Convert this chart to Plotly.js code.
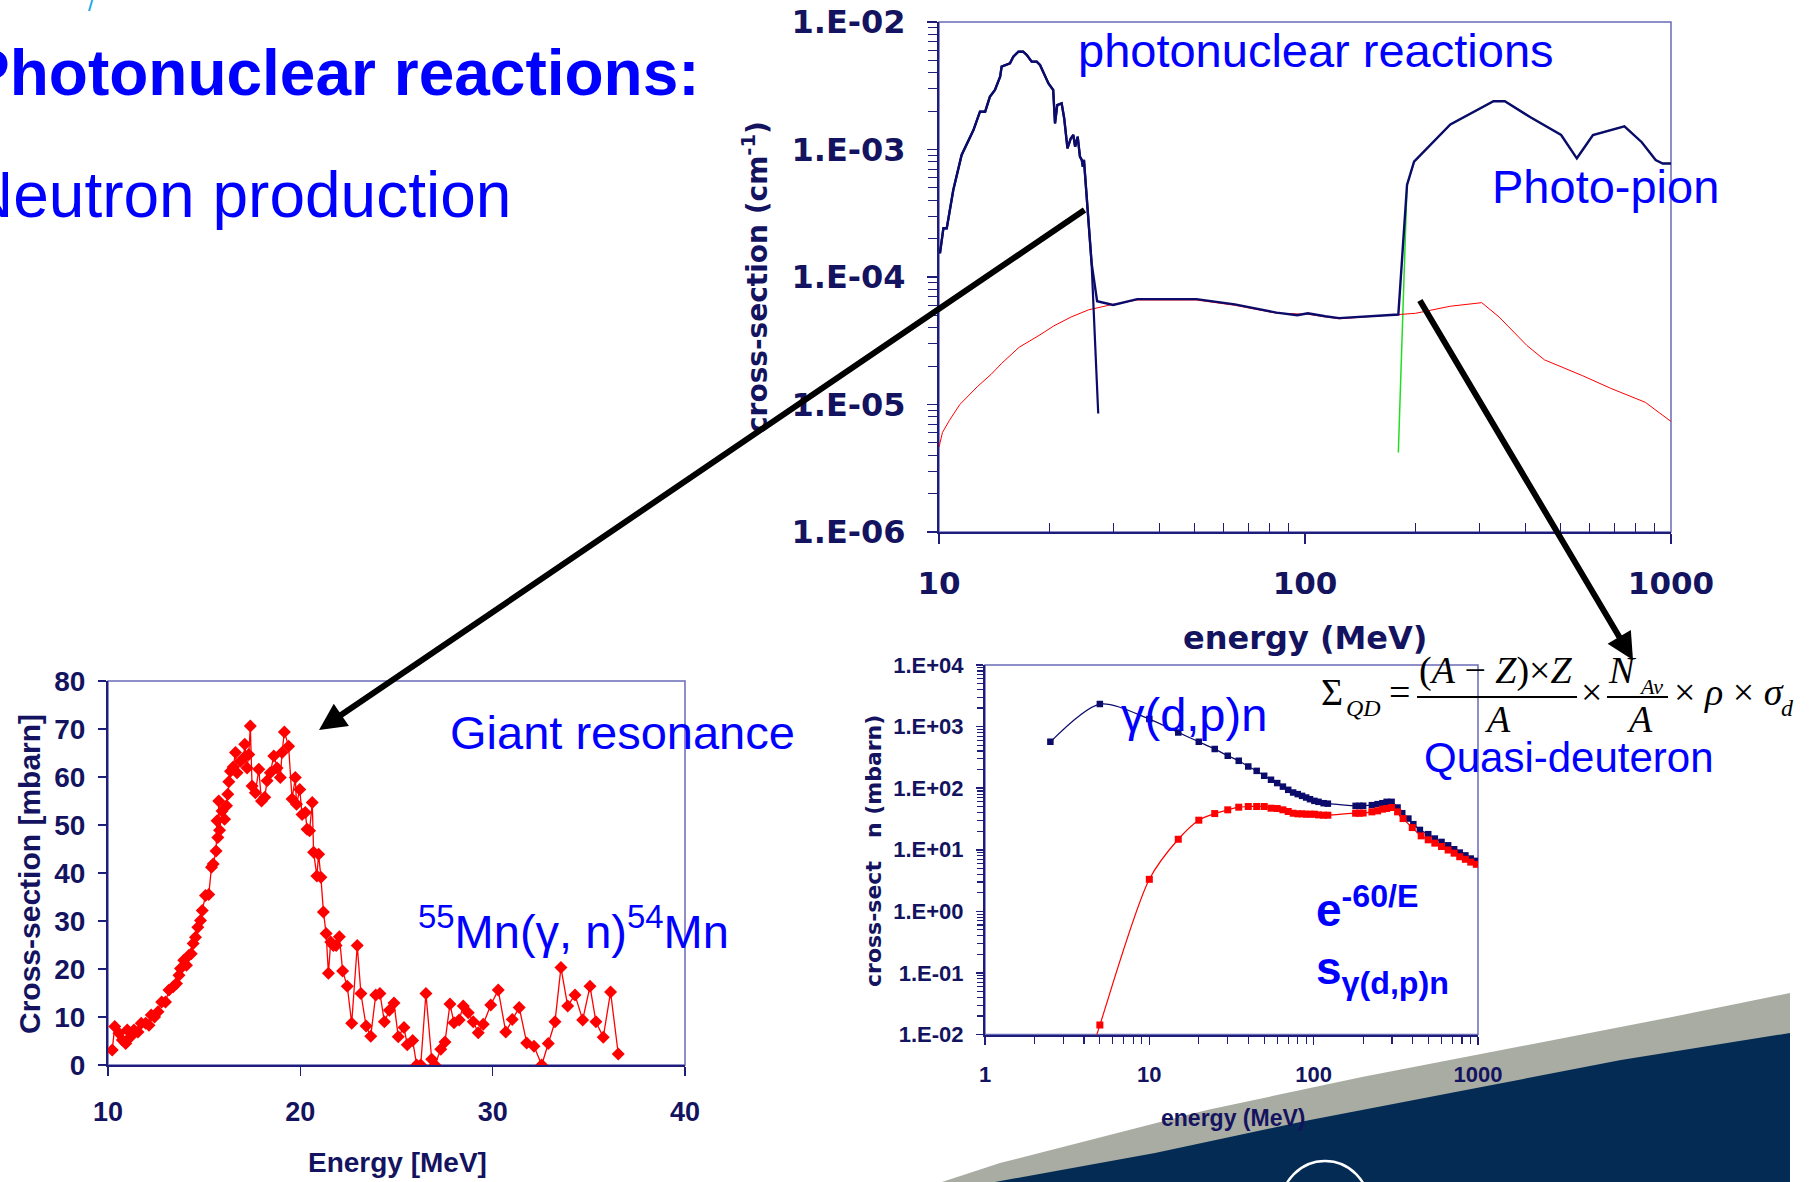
<!DOCTYPE html>
<html>
<head>
<meta charset="utf-8">
<script src="https://cdn.plot.ly/plotly-3.0.1.min.js"></script>
<style>
  html, body { margin: 0; padding: 0; background: #ffffff; overflow: hidden; }
  #chart { width: 1811px; height: 1182px; }
</style>
</head>
<body>
<div id="chart"></div>
<script>
// ---------- Top panel: macroscopic photonuclear cross-section (cm^-1) vs energy (MeV) ----------
// giant dipole resonance region
const gdrE  = [10.06, 10.28, 10.50, 10.94, 11.53, 12.42, 12.94, 13.37, 13.77, 14.22, 14.69, 14.83,
               15.63, 15.96, 16.48, 16.98, 17.38, 17.91, 18.49, 18.88, 19.91, 20.51, 20.75, 21.04,
               21.63, 21.98, 22.44, 22.91, 23.28, 23.55, 23.93, 24.27, 24.55, 24.72, 24.89, 25.35, 26.12];
const gdrXS = [1.53e-4, 2.41e-4, 2.41e-4, 4.81e-4, 9.06e-4, 1.42e-3, 1.98e-3, 1.98e-3, 2.59e-3, 2.93e-3, 3.72e-3, 4.47e-3,
               4.74e-3, 5.35e-3, 5.85e-3, 5.85e-3, 5.51e-3, 4.89e-3, 4.89e-3, 4.60e-3, 3.30e-3, 2.93e-3, 1.60e-3, 2.23e-3,
               2.30e-3, 1.76e-3, 1.02e-3, 1.22e-3, 1.30e-3, 1.05e-3, 1.26e-3, 8.79e-4, 8.28e-4, 7.33e-4, 8.28e-4, 3.78e-4, 1.28e-4];
const gdrTailE  = [27.23];
const gdrTailXS = [8.5e-6];
// quasi-deuteron plateau of the total
const plateauE  = [27.04, 29.92, 34.8, 50.5, 64.3, 83.6, 95.3, 101.8, 113.5, 123.9, 179.9];
const plateauXS = [6.46e-5, 6.03e-5, 6.71e-5, 6.71e-5, 6.10e-5, 5.25e-5, 5.01e-5, 5.19e-5, 4.92e-5, 4.76e-5, 5.08e-5];
// photo-pion region
const pionE  = [190, 198.6, 249.5, 327.3, 351.6, 413, 501, 553, 612, 746, 832, 908, 949, 1000];
const pionXS = [5.27e-4, 8.02e-4, 1.57e-3, 2.39e-3, 2.39e-3, 1.79e-3, 1.30e-3, 8.53e-4, 1.30e-3, 1.52e-3, 1.14e-3, 8.26e-4, 7.76e-4, 7.76e-4];
const pionOnsetE  = [179.9];
const pionOnsetXS = [4.2e-6];
// quasi-deuteron channel alone
const qdE  = [10, 10.22, 10.68, 11.40, 12.73, 13.90, 14.83, 16.55, 18.88, 20.61, 22.97, 25.64, 29.86, 34.8, 50.5,
              64.3, 83.6, 101.8, 123.9, 179.9, 200.4, 249.5, 304, 339, 404, 451, 574, 684, 851, 1000];
const qdXS = [4.63e-6, 6.03e-6, 7.52e-6, 1.00e-5, 1.38e-5, 1.73e-5, 2.10e-5, 2.81e-5, 3.52e-5, 4.14e-5, 4.86e-5, 5.53e-5, 6.10e-5, 6.60e-5, 6.60e-5,
              6.0e-5, 5.2e-5, 5.1e-5, 4.7e-5, 5.05e-5, 5.19e-5, 5.90e-5, 6.29e-5, 4.86e-5, 2.90e-5, 2.24e-5, 1.68e-5, 1.34e-5, 1.04e-5, 7.36e-6];
const topXTicks  = [10, 100, 1000];
const topXLabels = ['10', '100', '1000'];
const topYTicks  = [1e-6, 1e-5, 1e-4, 1e-3, 1e-2];
const topYLabels = ['1.E-06', '1.E-05', '1.E-04', '1.E-03', '1.E-02'];

// ---------- Bottom-left panel: 55Mn(γ,n)54Mn cross-section (mbarn) ----------
const mnE = [10.22, 10.35, 10.57, 10.74, 10.92, 11.00, 11.18, 11.35, 11.56, 11.73, 11.96, 12.13, 12.25, 12.42, 12.60,
             12.79, 12.99, 13.17, 13.39, 13.56, 13.69, 13.77, 13.94, 14.08, 14.20, 14.33, 14.43, 14.55, 14.67, 14.81,
             14.90, 15.07, 15.24, 15.38, 15.47, 15.62, 15.67, 15.71, 15.76, 15.80, 15.93, 16.06, 16.16, 16.23, 16.28,
             16.37, 16.51, 16.63, 16.71, 16.89, 17.06, 17.11, 17.23, 17.32, 17.40, 17.49, 17.66, 17.84, 17.98, 18.15,
             18.27, 18.44, 18.62, 18.79, 18.96, 19.05, 19.17, 19.39, 19.57, 19.74, 19.80, 19.97, 20.09, 20.26, 20.35,
             20.48, 20.62, 20.69, 20.86, 20.95, 21.07, 21.20, 21.34, 21.46, 21.58, 21.72, 21.86, 22.03, 22.20, 22.44,
             22.67, 22.96, 23.15, 23.42, 23.66, 23.92, 24.14, 24.37, 24.63, 24.87, 25.09, 25.39, 25.56, 25.84, 26.05,
             26.26, 26.53, 26.83, 27.00, 27.30, 27.52, 27.78, 27.99, 28.26, 28.47, 28.73, 28.99, 29.25, 29.51, 29.90,
             30.29, 30.68, 31.02, 31.38, 31.77, 32.15, 32.55, 32.89, 33.24, 33.55, 33.90, 34.28, 34.68, 35.06, 35.37,
             35.75, 36.13, 36.53];
const mnXS = [3.1, 8.0, 6.6, 5.2, 4.5, 7.3, 5.9, 7.3, 6.9, 8.7, 8.7, 8.3, 10.4, 10.0, 11.1,
              13.1, 13.1, 15.6, 16.3, 17.0, 18.7, 20.1, 21.8, 20.8, 22.8, 23.2, 25.3, 26.6, 28.7, 30.1,
              32.2, 35.3, 35.5, 41.2, 41.9, 44.6, 50.9, 47.4, 55.0, 48.9, 52.9, 51.2, 54.0, 56.4, 59.0,
              61.2, 62.1, 65.1, 60.9, 63.3, 64.0, 66.8, 61.9, 64.7, 70.6, 58.1, 56.7, 61.6, 55.0, 55.8,
              59.2, 60.9, 64.4, 61.9, 59.9, 65.1, 69.4, 66.4, 55.4, 59.9, 54.3, 57.4, 52.2, 52.6, 49.1,
              48.8, 54.7, 44.3, 39.4, 43.9, 39.1, 31.9, 27.4, 19.1, 25.6, 24.9, 24.9, 26.7, 19.6, 16.4,
              8.7, 24.9, 14.9, 8.1, 6.0, 14.6, 14.9, 9.0, 11.4, 12.9, 5.9, 7.8, 4.2, 5.1, 0,
              0, 14.9, 1.2, 0, 3.3, 4.8, 12.7, 8.8, 9.4, 12.3, 10.9, 9.0, 6.7, 8.5, 12.5,
              15.6, 6.9, 9.5, 12.0, 4.6, 3.9, 0, 4.5, 9.0, 20.3, 12.3, 14.6, 9.4, 16.4, 9.0,
              5.8, 15.2, 2.3];
const mnXTicks = [10, 20, 30, 40];
const mnYTicks = [0, 10, 20, 30, 40, 50, 60, 70, 80];

// ---------- Bottom-right panel: γ(d,p)n and Levinger-weighted quasi-deuteron (mbarn) ----------
const dpnE  = [2.5, 5, 10, 15, 20, 25, 30, 35, 40, 45, 50, 55, 60, 65, 70, 75, 80, 85, 90, 95, 101, 107, 115, 122,
               180, 190, 200, 226, 245, 262, 278, 298, 324, 346, 377, 404, 443, 498, 546, 600, 658, 716, 774, 838, 903, 977];
const dpnXS = [566, 2323, 1324, 804, 566, 431, 336, 278, 225, 191, 159, 137, 121, 106, 94, 85, 80, 75, 70.5, 66.2, 62.2, 60, 57, 56,
               51.6, 51.6, 51.8, 53, 55, 57, 60, 60, 48.5, 39.2, 32.1, 26, 21, 17.9, 15.2, 13.4, 11.8, 10.2, 9.0, 8.1, 7.2, 6.6];
const qdwE  = [2.5, 5, 10, 15, 20, 25, 30, 35, 40, 45, 50, 55, 60, 65, 70, 75, 80, 85, 90, 95, 101, 107, 115, 122,
               180, 190, 200, 226, 245, 262, 278, 298, 324, 350, 398, 451, 498, 546, 600, 658, 716, 774, 838, 903, 977];
const qdwXS = [3e-5, 0.0142, 3.31, 14.8, 30.2, 38.7, 44.5, 49.1, 50.4, 50.4, 50.4, 47.3, 46.7, 44.5, 41.8, 39.2, 38.3, 38.3, 37.8, 37.8, 37.8, 36.8, 36.4, 36.4,
               39.2, 39.2, 39.5, 41.2, 42.8, 45.6, 46.8, 48.5, 41.2, 32.1, 22.9, 16.8, 14.5, 12.8, 11.3, 9.9, 8.8, 7.7, 7.0, 6.3, 5.8];
const brXTicks  = [1, 10, 100, 1000];
const brXLabels = ['1', '10', '100', '1000'];
const brYTicks  = [1e-2, 1e-1, 1, 10, 100, 1000, 10000];
const brYLabels = ['1.E-02', '1.E-01', '1.E+00', '1.E+01', '1.E+02', '1.E+03', '1.E+04'];

// ---------- page geometry helpers (pixels -> paper fractions) ----------
const W = 1811, H = 1182;
const fx = p => p / W;
const fy = p => 1 - p / H;
const pt = (x, y) => fx(x).toFixed(5) + ',' + fy(y).toFixed(5);

function logMinor(lo, hi) {
  const v = [];
  for (let d = lo; d < hi; d++) for (let m = 2; m <= 9; m++) v.push(m * Math.pow(10, d));
  return v;
}

const NAVY = '#0b0b6b';
const AXIS = '#1e1e7a';
const LABEL = '#13135f';
const FRAME = '#6a6ab8';
const BLUE = '#0000ff';
const RED = '#ff0000';

const traces = [
  // top panel
  { x: pionOnsetE.concat(pionE), y: pionOnsetXS.concat(pionXS), xaxis: 'x', yaxis: 'y',
    mode: 'lines', line: { color: '#22dd22', width: 1.5 }, hoverinfo: 'skip' },
  { x: qdE, y: qdXS, xaxis: 'x', yaxis: 'y',
    mode: 'lines', line: { color: RED, width: 1 }, hoverinfo: 'skip' },
  { x: gdrE.concat(gdrTailE), y: gdrXS.concat(gdrTailXS), xaxis: 'x', yaxis: 'y',
    mode: 'lines', line: { color: NAVY, width: 2.2 }, hoverinfo: 'skip' },
  { x: gdrE.concat(plateauE, pionE), y: gdrXS.concat(plateauXS, pionXS), xaxis: 'x', yaxis: 'y',
    mode: 'lines', line: { color: NAVY, width: 2.4 }, hoverinfo: 'skip' },
  // bottom-left panel
  { x: mnE, y: mnXS, xaxis: 'x2', yaxis: 'y2', mode: 'lines+markers',
    line: { color: RED, width: 1.3 }, marker: { symbol: 'diamond', size: 10, color: RED }, hoverinfo: 'skip' },
  // bottom-right panel
  { x: dpnE, y: dpnXS, xaxis: 'x3', yaxis: 'y3', mode: 'lines+markers',
    line: { color: NAVY, width: 1.2, shape: 'spline', smoothing: 0.8 },
    marker: { symbol: 'square', size: 6.5, color: NAVY }, hoverinfo: 'skip' },
  { x: qdwE, y: qdwXS, xaxis: 'x3', yaxis: 'y3', mode: 'lines+markers',
    line: { color: RED, width: 1.2, shape: 'spline', smoothing: 0.8 },
    marker: { symbol: 'square', size: 7, color: RED }, hoverinfo: 'skip' }
];

function axisBase(extra) {
  return Object.assign({
    showgrid: false, zeroline: false, showline: true, linecolor: AXIS, linewidth: 2,
    tickcolor: AXIS, tickwidth: 1.5, fixedrange: true
  }, extra);
}

const dejaBold = (size) => ({ family: 'DejaVu Sans', size: size, color: LABEL, weight: 700 });
const libBold = (size) => ({ family: 'Liberation Sans', size: size, color: LABEL, weight: 700 });

const layout = {
  width: W, height: H,
  margin: { l: 0, r: 0, t: 0, b: 0 },
  paper_bgcolor: '#ffffff', plot_bgcolor: 'rgba(0,0,0,0)',
  showlegend: false,
  font: { family: 'Liberation Sans', color: BLUE },

  xaxis: axisBase({
    type: 'log', range: [1, 3], domain: [fx(939), fx(1671)], anchor: 'y',
    tickmode: 'array', tickvals: topXTicks, ticktext: topXLabels,
    ticks: 'outside', ticklen: 10, tickfont: dejaBold(31), ticklabelstandoff: 13,
    minor: { tickmode: 'array', tickvals: logMinor(1, 3), ticks: 'inside', ticklen: 9, tickcolor: AXIS, tickwidth: 1.2 }
  }),
  yaxis: axisBase({
    type: 'log', range: [-6, -2], domain: [fy(532), fy(22)], anchor: 'x',
    tickmode: 'array', tickvals: topYTicks, ticktext: topYLabels,
    ticks: 'outside', ticklen: 10, tickfont: dejaBold(32), ticklabelstandoff: 15,
    minor: { tickmode: 'array', tickvals: logMinor(-6, -2), ticks: 'outside', ticklen: 9, tickcolor: AXIS, tickwidth: 1.2 }
  }),

  xaxis2: axisBase({
    range: [10, 40], domain: [fx(108), fx(685)], anchor: 'y2',
    tickmode: 'array', tickvals: mnXTicks, ticks: 'outside', ticklen: 9,
    tickfont: libBold(27), ticklabelstandoff: 13
  }),
  yaxis2: axisBase({
    range: [0, 80], domain: [fy(1065), fy(681)], anchor: 'x2',
    tickmode: 'array', tickvals: mnYTicks, ticks: 'outside', ticklen: 8,
    tickfont: libBold(28), ticklabelstandoff: 7
  }),

  xaxis3: axisBase({
    type: 'log', range: [0, 3], domain: [fx(985), fx(1478)], anchor: 'y3',
    tickmode: 'array', tickvals: brXTicks, ticktext: brXLabels,
    ticks: 'outside', ticklen: 8, tickfont: libBold(22), ticklabelstandoff: 11,
    minor: { tickmode: 'array', tickvals: logMinor(0, 3), ticks: 'outside', ticklen: 7, tickcolor: AXIS, tickwidth: 1.2 }
  }),
  yaxis3: axisBase({
    type: 'log', range: [-2, 4], domain: [fy(1034.5), fy(665)], anchor: 'x3',
    tickmode: 'array', tickvals: brYTicks, ticktext: brYLabels,
    ticks: 'outside', ticklen: 7, tickfont: libBold(22), ticklabelstandoff: 8,
    minor: { tickmode: 'array', tickvals: logMinor(-2, 4), ticks: 'outside', ticklen: 6, tickcolor: AXIS, tickwidth: 1.2 }
  }),

  shapes: [
    // swoosh in the lower-right corner
    { type: 'path', xref: 'paper', yref: 'paper', layer: 'below', line: { width: 0 }, fillcolor: '#a9aca3',
      path: 'M' + pt(942, 1182) + ' L' + pt(1000, 1163) + ' L' + pt(1207, 1110) + ' L' + pt(1362, 1077) +
            ' L' + pt(1517, 1047) + ' L' + pt(1672, 1017) + ' L' + pt(1790, 993) + ' L' + pt(1790, 1182) + ' Z' },
    { type: 'path', xref: 'paper', yref: 'paper', layer: 'below', line: { width: 0 }, fillcolor: '#032b53',
      path: 'M' + pt(995, 1182) + ' L' + pt(1155, 1153) + ' L' + pt(1310, 1120) + ' L' + pt(1466, 1090) +
            ' L' + pt(1621, 1060) + ' L' + pt(1790, 1033) + ' L' + pt(1790, 1182) + ' Z' },
    { type: 'circle', xref: 'paper', yref: 'paper', layer: 'below', line: { color: '#ffffff', width: 2.5 },
      x0: fx(1281), x1: fx(1369), y0: fy(1250), y1: fy(1161) },
    // panel frames
    { type: 'rect', xref: 'paper', yref: 'paper', layer: 'below', line: { color: FRAME, width: 1.5 },
      x0: fx(939), x1: fx(1671), y0: fy(532), y1: fy(22) },
    { type: 'rect', xref: 'paper', yref: 'paper', layer: 'below', line: { color: FRAME, width: 1.5 },
      x0: fx(108), x1: fx(685), y0: fy(1065), y1: fy(681) },
    { type: 'rect', xref: 'paper', yref: 'paper', layer: 'below', line: { color: FRAME, width: 1.5 },
      x0: fx(985), x1: fx(1478), y0: fy(1034.5), y1: fy(665) },
    // fraction bars of the quasi-deuteron formula
    { type: 'line', xref: 'paper', yref: 'paper', line: { color: '#000000', width: 2 },
      x0: fx(1417), x1: fx(1577), y0: fy(697), y1: fy(697) },
    { type: 'line', xref: 'paper', yref: 'paper', line: { color: '#000000', width: 2 },
      x0: fx(1607), x1: fx(1668), y0: fy(697), y1: fy(697) }
  ],

  annotations: []
};

function txt(text, x, y, size, opts) {
  const o = Object.assign({ anchor: 'left', color: BLUE, family: 'Liberation Sans', weight: 400, style: 'normal', angle: 0 }, opts || {});
  return {
    text: text, xref: 'paper', yref: 'paper', x: fx(x), y: fy(y),
    xanchor: o.anchor, yanchor: 'middle', showarrow: false, textangle: o.angle,
    font: { family: o.family, size: size, color: o.color, weight: o.weight, style: o.style },
    borderpad: 0
  };
}

const serif = { family: 'Liberation Serif', color: '#000000' };
const serifI = { family: 'Liberation Serif', color: '#000000', style: 'italic' };

layout.annotations.push(
  // slide headings
  txt('/', 91, 3, 24, { anchor: 'center', color: '#1aa8e2' }),
  txt('Photonuclear reactions:', 701, 73, 64, { anchor: 'right', weight: 700 }),
  txt('Neutron production', 512, 195, 64, { anchor: 'right' }),
  // top panel
  txt('photonuclear reactions', 1316, 51, 47, { anchor: 'center' }),
  txt('Photo-pion', 1605, 186, 47, { anchor: 'center' }),
  txt('cross-section (cm<sup>-1</sup>)', 755, 277, 28, { anchor: 'center', angle: -90, color: LABEL, family: 'DejaVu Sans', weight: 700 }),
  txt('energy (MeV)', 1305, 638, 32, { anchor: 'center', color: LABEL, family: 'DejaVu Sans', weight: 700 }),
  // bottom-left panel
  txt('Giant resonance', 449, 732, 47),
  txt('<sup>55</sup>Mn(γ, n)<sup>54</sup>Mn', 417, 928, 47),
  txt('Cross-section [mbarn]', 29, 874, 30, { anchor: 'center', angle: -90, color: LABEL, weight: 700 }),
  txt('Energy [MeV]', 397, 1162, 28, { anchor: 'center', color: LABEL, weight: 700 }),
  // bottom-right panel
  txt('γ(d,p)n', 1120, 714, 47),
  txt('Quasi-deuteron', 1423, 757, 42),
  txt('e<sup>-60/E</sup>', 1315, 907, 46, { weight: 700 }),
  txt('s<sub>γ(d,p)n</sub>', 1315, 971, 46, { weight: 700 }),
  txt('cross-sect\u00a0\u00a0\u00a0n (mbarn)', 873, 851, 22, { anchor: 'center', angle: -90, color: LABEL, family: 'DejaVu Sans', weight: 700 }),
  txt('energy (MeV)', 1233, 1118, 23, { anchor: 'center', color: LABEL, weight: 700 }),
  // quasi-deuteron cross-section formula
  txt('Σ', 1332, 692, 38, Object.assign({ anchor: 'center' }, serif)),
  txt('QD', 1345, 708, 24, serifI),
  txt('=', 1399, 692, 38, Object.assign({ anchor: 'center' }, serif)),
  txt('(<i>A</i> − <i>Z</i>)×<i>Z</i>', 1496, 670, 38, Object.assign({ anchor: 'center' }, serif)),
  txt('A', 1497, 719, 38, Object.assign({ anchor: 'center' }, serifI)),
  txt('×', 1591, 692, 38, Object.assign({ anchor: 'center' }, serif)),
  txt('N', 1622, 670, 38, Object.assign({ anchor: 'center' }, serifI)),
  txt('Av', 1638, 686, 22, serifI),
  txt('A', 1639, 719, 38, Object.assign({ anchor: 'center' }, serifI)),
  txt('× <i>ρ</i> × <i>σ</i>', 1673, 692, 38, serif),
  txt('d', 1780, 708, 24, serifI),
  // arrows linking the panels
  { text: '', xref: 'paper', yref: 'paper', x: fx(319), y: fy(730), showarrow: true,
    axref: 'pixel', ayref: 'pixel', ax: 1086 - 319, ay: 209 - 730,
    arrowhead: 2, arrowsize: 0.9, arrowwidth: 6, arrowcolor: '#000000', standoff: 0 },
  { text: '', xref: 'paper', yref: 'paper', x: fx(1633), y: fy(660), showarrow: true,
    axref: 'pixel', ayref: 'pixel', ax: 1419 - 1633, ay: 299 - 660,
    arrowhead: 2, arrowsize: 0.9, arrowwidth: 6, arrowcolor: '#000000', standoff: 0 }
);

Plotly.newPlot('chart', traces, layout, { staticPlot: true, displayModeBar: false });
</script>
</body>
</html>
